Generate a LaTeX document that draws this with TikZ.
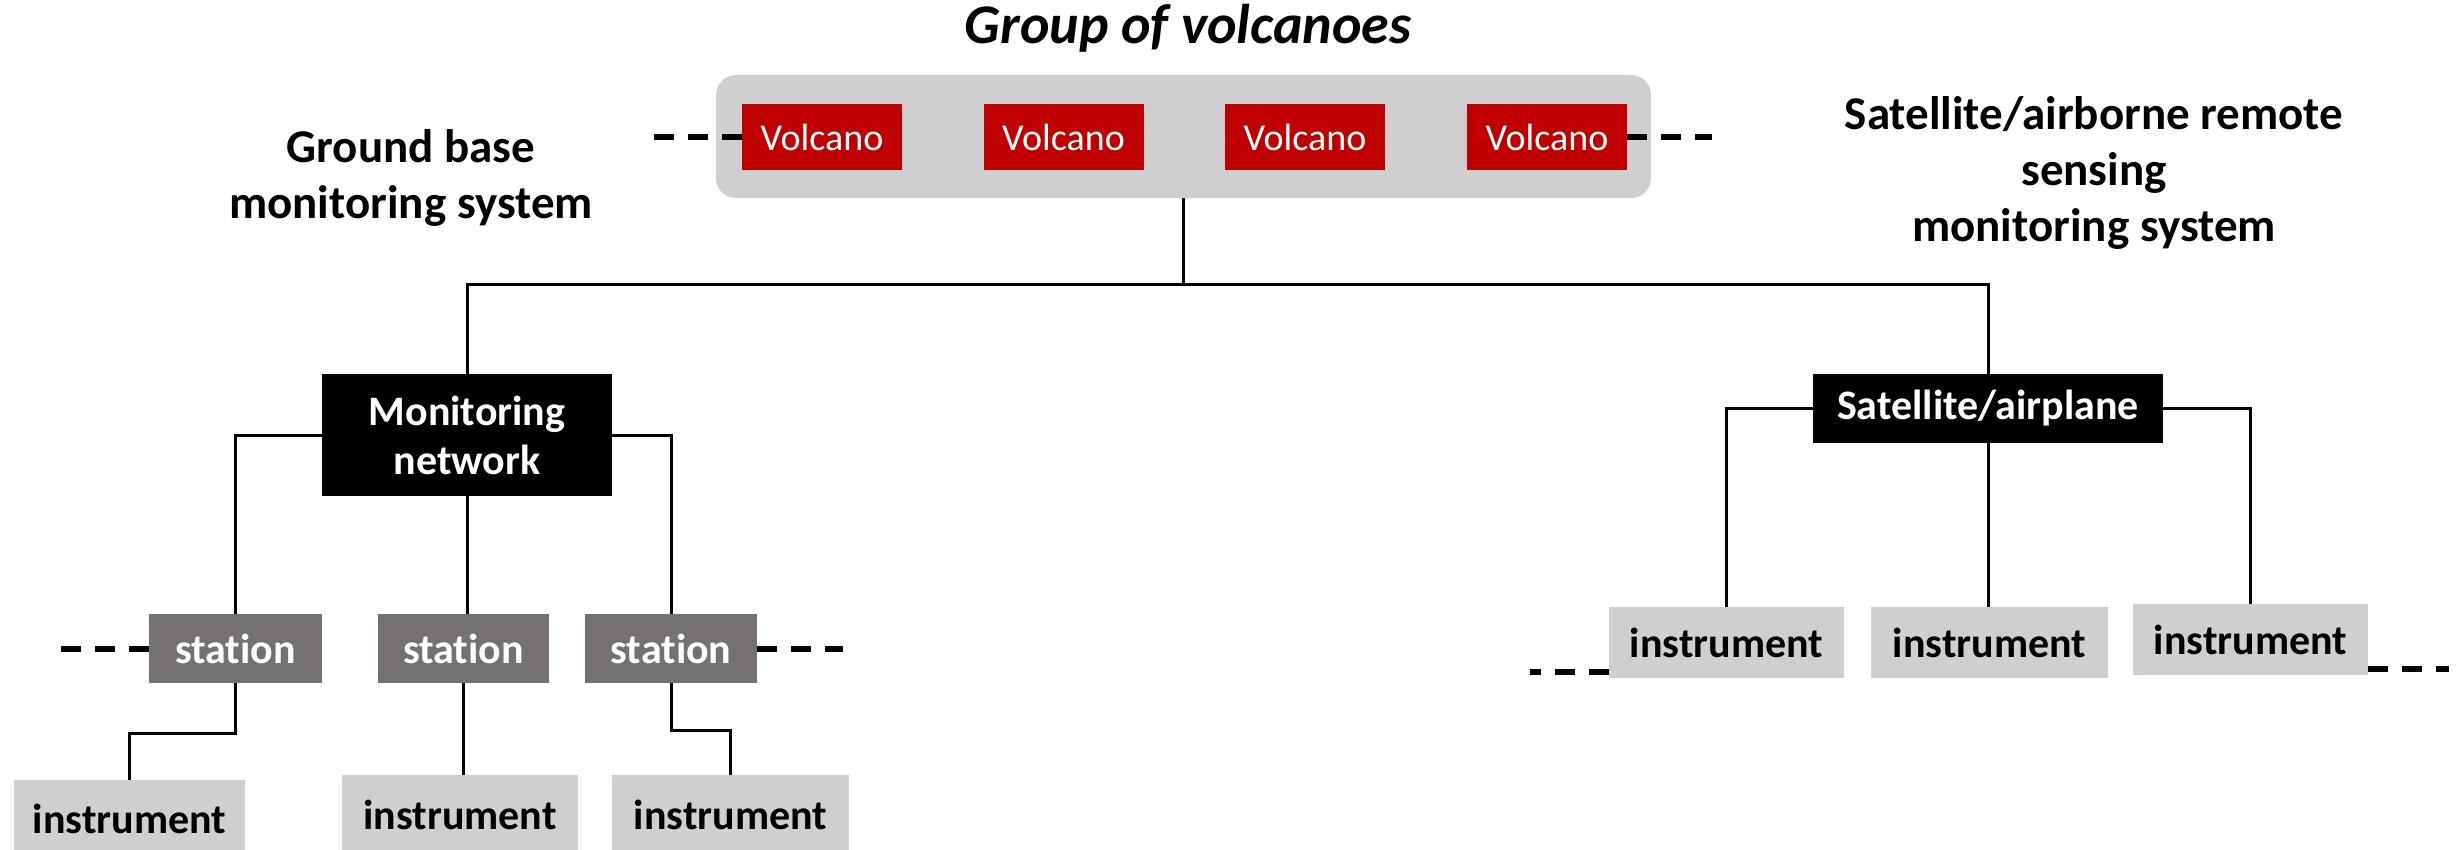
\documentclass[tikz,border=0pt]{standalone}
\usepackage{fontspec}
\setmainfont{Carlito}[Ligatures={NoCommon}]
\definecolor{volred}{HTML}{C00000}
\definecolor{lgrey}{HTML}{D0CECE}
\definecolor{dgrey}{HTML}{767171}
\tikzset{
  box/.style={rectangle, inner sep=0pt, align=center},
  volc/.style={box, fill=volred, text=white, minimum width=160pt, minimum height=66pt, font=\fontsize{38}{44}\selectfont},
  blk/.style={box, fill=black, text=white, font=\fontsize{42}{49}\selectfont\bfseries},
  stat/.style={box, fill=dgrey, text=white, minimum height=69pt, font=\fontsize{42}{49}\selectfont\bfseries},
  inst/.style={box, fill=lgrey, text=black, font=\fontsize{42}{49}\selectfont\bfseries},
  lbl/.style={align=center, inner sep=0pt, font=\fontsize{47}{56}\selectfont\bfseries},
  conn/.style={draw=black, line width=3pt},
  dashline/.style={draw=black, line width=6pt, dash pattern=on 20pt off 14pt}
}
\begin{document}
\begin{tikzpicture}[x=1pt,y=-1pt]
\clip (0,0) rectangle (2461,850);
\fill[white] (0,0) rectangle (2461,850);

\node[inner sep=0pt, font=\fontsize{56}{62}\selectfont\bfseries\itshape] (title) at (1188,28) {Group of volcanoes};
\node[box, fill=lgrey, rounded corners=20pt, minimum width=935pt, minimum height=123pt] (grp) at (1183.5,136.5) {};
\node[volc] (v1) at (822,137) {Volcano};
\node[volc] (v2) at (1063.5,137) {Volcano};
\node[volc] (v3) at (1305,137) {Volcano};
\node[volc] (v4) at (1547,137) {Volcano};

\node[lbl] (gb) at (411,178) {Ground base\\monitoring system};
\node[lbl] (sat) at (2094,173) {Satellite/airborne remote\\sensing\\monitoring system};

\node[blk, minimum width=290pt, minimum height=122pt] (mn) at (467,435) {Monitoring\\network};
\node[blk, minimum width=350pt, minimum height=69pt] (sa) at (1988,408.5) {Satellite/airplane};

\node[stat, minimum width=173pt] (st1) at (235.5,648.5) {station};
\node[stat, minimum width=171pt] (st2) at (463.5,648.5) {station};
\node[stat, minimum width=172pt] (st3) at (671,648.5) {station};

\node[inst, minimum width=231pt, minimum height=78pt] (in1) at (129.5,819) {instrument};
\node[inst, minimum width=236pt, minimum height=80pt] (in2) at (460,815) {instrument};
\node[inst, minimum width=237pt, minimum height=80pt] (in3) at (730.5,815) {instrument};

\node[inst, minimum width=235pt, minimum height=71pt] (ri1) at (1726.5,642.5) {instrument};
\node[inst, minimum width=237pt, minimum height=71pt] (ri2) at (1989.5,642.5) {instrument};
\node[inst, minimum width=235pt, minimum height=71pt] (ri3) at (2250.5,639.5) {instrument};

% trunk
\draw[conn] (grp.south) -- ++(0,86) coordinate (j);
\draw[conn] (mn.north) |- (j) -| (sa.north);

% monitoring network branches
\draw[conn] (mn.west) -| (st1.north);
\draw[conn] (mn.south) -- (mn.south |- st2.north);
\draw[conn] (mn.east) -| (st3.north);

% stations to instruments
\draw[conn] (st1.south) -- ++(0,50) -| (in1.north);
\draw[conn] (st2.south) -- (st2.south |- in2.north);
\draw[conn] (st3.south) -- ++(0,47) -| (in3.north);

% satellite branches
\draw[conn] (sa.west) -| (ri1.north);
\draw[conn] (sa.south) -- (sa.south |- ri2.north);
\draw[conn] (sa.east) -| (ri3.north);

% dashed continuations
\draw[dashline] (v1.west) -- ++(-99,0);
\draw[dashline] (v4.east) -- ++(85,0);
\draw[dashline] (st1.west) -- ++(-102,0);
\draw[dashline] (st3.east) -- ++(86,0);
\draw[dashline] ([yshift=6pt]ri1.south west) -- ++(-79,0);
\draw[dashline] ([yshift=6pt]ri3.south east) -- ++(81,0);
\end{tikzpicture}
\end{document}
